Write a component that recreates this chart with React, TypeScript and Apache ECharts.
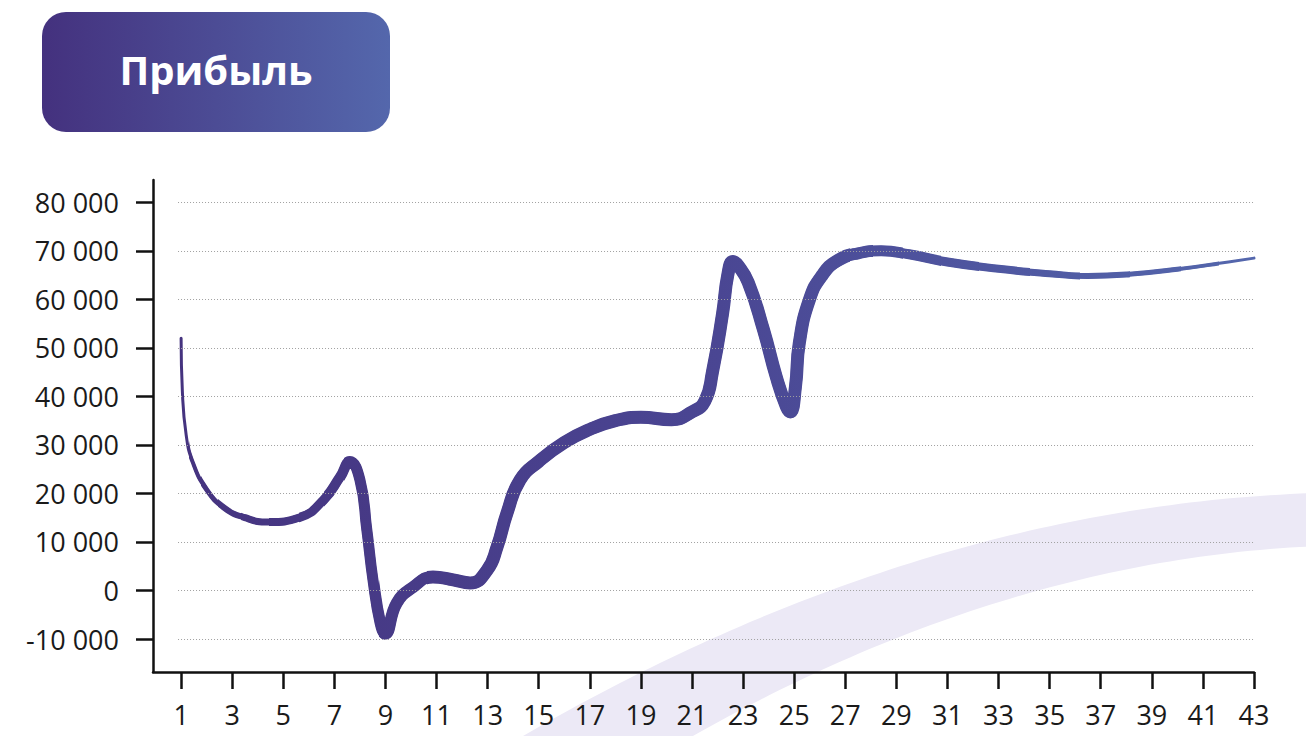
import React, { useEffect, useRef } from "react";
import * as echarts from "echarts";

// Period numbers (x) and profit values (y)
const PERIODS = [
  1, 1.05, 1.2, 1.45, 2, 2.7, 3.5, 4.4, 5.66, 6.56, 7.22, 7.6, 8.0, 8.27, 8.51,
  8.79, 8.98, 9.44, 10.08, 10.86, 11.65, 12.31, 12.98, 13.37, 13.76, 14.27, 15.0,
  16.0, 17.0, 18.0, 19.0, 20.2, 21.0, 21.5, 21.8, 22.2, 22.4, 22.6, 22.8, 23.2,
  23.8, 24.3, 24.7, 24.85, 25.05, 25.2, 25.6, 26.1, 26.7, 27.5, 28.4, 29.5, 31,
  33, 35, 36.5, 38, 40, 42, 43,
];
const PROFIT = [
  52000, 41000, 32000, 26500, 20800, 17000, 15000, 14100, 15100, 18600, 23400,
  26600, 22800, 12500, 2200, -6700, -8900, -2600, 700, 2800, 2200, 1550, 4200,
  9000, 16000, 22800, 26600, 30500, 33200, 35000, 35700, 35200, 36800, 39000,
  45000, 57200, 65000, 67800, 67000, 63500, 53700, 44000, 37800, 36800, 42000,
  51000, 60000, 65000, 68000, 69500, 70000, 69300, 67700, 66300, 65300, 64800,
  65100, 66200, 67700, 68500,
];
const Y_TICKS = [-10000, 0, 10000, 20000, 30000, 40000, 50000, 60000, 70000, 80000];
const X_TICKS = [1, 3, 5, 7, 9, 11, 13, 15, 17, 19, 21, 23, 25, 27, 29, 31, 33, 35, 37, 39, 41, 43];
const TITLE = "Прибыль";

// axis ranges
const X_MIN = -0.1;
const X_MAX = 43;
const Y_MIN = -16800;
const Y_MAX = 84600;

// stroke thickness profile (style only): nested period ranges drawn with growing widths
const STROKE_STEPS = [
  { from: 1.4, to: 41.5, width: 4 },
  { from: 1.9, to: 40, width: 5 },
  { from: 2.6, to: 38, width: 6 },
  { from: 3.5, to: 36, width: 7 },
  { from: 4.6, to: 34, width: 8 },
  { from: 5.8, to: 32, width: 9 },
  { from: 6.8, to: 30.5, width: 10 },
  { from: 7.6, to: 29, width: 11 },
  { from: 9.0, to: 27.8, width: 12 },
  { from: 10.9, to: 26.9, width: 13 },
];

function fmt(v: number): string {
  const s = String(Math.abs(v)).replace(/\B(?=(\d{3})+(?!\d))/g, " ");
  return v < 0 ? "-" + s : s;
}

// decorative background swoosh: upper and lower edge shapes (pixels)
function swooshPoints(): number[][] {
  const upper = (x: number) =>
    736 - 0.54 * (x - 523) + 0.000345 * ((x - 581) * (x - 581) - 58 * 58);
  const lower = (x: number) =>
    732 - 0.51 * (x - 700) + 0.00042 * ((x - 760) * (x - 760) - 60 * 60);
  const pts: number[][] = [];
  for (let x = 480; x <= 1320; x += 10) pts.push([x, upper(x)]);
  for (let x = 1320; x >= 640; x -= 10) pts.push([x, lower(x)]);
  return pts;
}

export default function App() {
  const ref = useRef<HTMLDivElement>(null);
  useEffect(() => {
    if (!ref.current) return;
    const chart = echarts.init(ref.current, undefined, { renderer: "svg" });
    const points = PERIODS.map((x, i) => [x, PROFIT[i]]);

    const W = 1306;
    const gridLeft = 153;
    const gridRight = 52;
    const gridTop = 180;
    const gridBottom = 64;
    const unit = (W - gridLeft - gridRight) / (X_MAX - X_MIN);

    const lineGradient = {
      type: "linear",
      x: 180,
      y: 0,
      x2: 1256,
      y2: 0,
      global: true,
      colorStops: [
        { offset: 0, color: "#45337f" },
        { offset: 0.5, color: "#4a4693" },
        { offset: 1, color: "#5467ad" },
      ],
    };
    const axisColor = "#111";
    const labelFont = { fontFamily: "Open Sans", fontSize: 27, color: "#1a1a1a" };

    const grids: any[] = [{ left: gridLeft, right: gridRight, top: gridTop, bottom: gridBottom }];
    const xAxes: any[] = [
      {
        type: "value",
        gridIndex: 0,
        min: X_MIN,
        max: X_MAX,
        splitLine: { show: false },
        axisLine: { onZero: false, lineStyle: { color: axisColor, width: 2.5 } },
        axisTick: { show: true, length: 17, customValues: X_TICKS, lineStyle: { color: axisColor, width: 2.5 } },
        axisLabel: { ...labelFont, margin: 29, customValues: X_TICKS },
      },
    ];
    const yAxes: any[] = [
      {
        type: "value",
        gridIndex: 0,
        min: Y_MIN,
        max: Y_MAX,
        splitLine: { show: false },
        axisLine: { show: true, onZero: false, lineStyle: { color: axisColor, width: 2.5 } },
        axisTick: { show: true, length: 17, customValues: Y_TICKS, lineStyle: { color: axisColor, width: 2.5 } },
        axisLabel: { ...labelFont, margin: 34, customValues: Y_TICKS, formatter: (v: number) => fmt(v) },
      },
    ];
    const series: any[] = [
      {
        type: "line",
        xAxisIndex: 0,
        yAxisIndex: 0,
        data: points,
        z: 1,
        silent: true,
        showSymbol: false,
        symbol: "none",
        lineStyle: { opacity: 0, width: 0 },
        markLine: {
          silent: true,
          symbol: "none",
          label: { show: false },
          lineStyle: { color: "#a0a0a0", width: 1, type: [1, 2] },
          data: Y_TICKS.map((v) => [{ coord: [0.88, v] }, { coord: [X_MAX, v] }]),
        },
      },
      {
        type: "line",
        xAxisIndex: 0,
        yAxisIndex: 0,
        data: points,
        smooth: 0.5,
        showSymbol: false,
        symbol: "none",
        silent: true,
        z: 3,
        lineStyle: { color: lineGradient, width: 3, cap: "round", join: "round" },
      },
    ];

    STROKE_STEPS.forEach((st, i) => {
      const gi = i + 1;
      const left = gridLeft + (st.from - X_MIN) * unit;
      const right = W - (gridLeft + (st.to - X_MIN) * unit);
      grids.push({ left, right, top: gridTop, bottom: gridBottom });
      xAxes.push({ type: "value", gridIndex: gi, min: st.from, max: st.to, show: false });
      yAxes.push({ type: "value", gridIndex: gi, min: Y_MIN, max: Y_MAX, show: false });
      series.push({
        type: "line",
        xAxisIndex: gi,
        yAxisIndex: gi,
        data: points,
        smooth: 0.5,
        showSymbol: false,
        symbol: "none",
        silent: true,
        clip: true,
        z: 3,
        lineStyle: { color: lineGradient, width: st.width, cap: "round", join: "round" },
      });
    });

    chart.setOption({
      animation: false,
      backgroundColor: "#ffffff",
      grid: grids,
      xAxis: xAxes,
      yAxis: yAxes,
      graphic: [
        {
          type: "polygon",
          z: -1,
          silent: true,
          shape: { points: swooshPoints() },
          style: { fill: "#ece9f6" },
        },
        {
          type: "rect",
          z: 10,
          shape: { x: 42, y: 12, width: 348, height: 120, r: 24 },
          style: {
            fill: {
              type: "linear",
              x: 0,
              y: 0,
              x2: 1,
              y2: 0,
              colorStops: [
                { offset: 0, color: "#44317e" },
                { offset: 1, color: "#5467ac" },
              ],
            },
          },
        },
        {
          type: "text",
          z: 11,
          style: {
            text: TITLE,
            x: 216,
            y: 69,
            align: "center",
            verticalAlign: "middle",
            fill: "#ffffff",
            fontFamily: "Open Sans",
            fontWeight: "bold",
            fontSize: 40,
          },
        },
      ],
      series,
    });
    return () => chart.dispose();
  }, []);
  return (
    <div
      ref={ref}
      style={{ position: "fixed", left: 0, top: 0, width: 1306, height: 736, background: "#fff" }}
    />
  );
}
